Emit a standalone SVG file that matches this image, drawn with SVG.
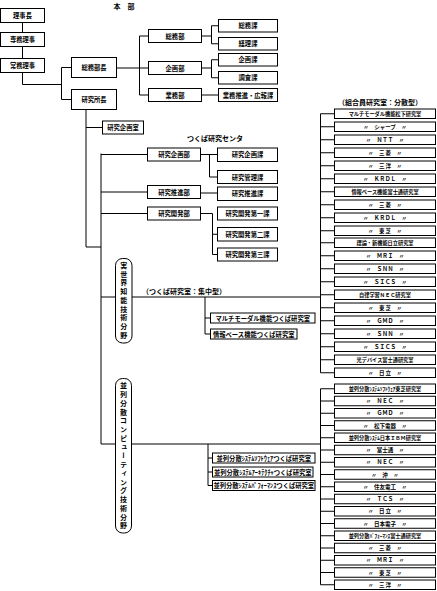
<svg xmlns="http://www.w3.org/2000/svg" width="437" height="591" viewBox="0 0 437 591">
<style>
.b{fill:#fff;stroke:#000;stroke-width:1}
.c{fill:none;stroke:#000;stroke-width:1}
text{font-family:"Noto Sans CJK JP","Noto Sans CJK SC",sans-serif;font-weight:bold;fill:#000;text-anchor:middle;dominant-baseline:central}
.s6{font-size:6.3px}
.s5{font-size:5.5px}
.h5{font-size:5.2px}
.s7{font-size:7px}
.v{font-size:7px;writing-mode:vertical-rl;letter-spacing:1.75px}
</style>
<rect width="437" height="591" fill="#fff"/>
<text class="s7" x="124" y="6">本　部</text>
<text class="s7" x="215" y="138">つくば研究センタ</text>
<text class="s7" x="184" y="290.5">（つくば研究室：集中型）</text>
<text class="s7" x="380" y="101.5">（組合員研究室：分散型）</text>

<g id="connectors" class="c">
<path d="M22.5 22.5V32.5M22.5 46.5V58.5M22.5 72.5V84.5H61.5M61.5 67.5V99.5M61.5 67.5H71.5M61.5 99.5H71.5"/>
<path d="M116.5 68H148.5M139.5 36V95M139.5 36H148.5M139.5 95H148.5"/>
<path d="M201.5 36H211.5M211.5 25.75V43.75M211.5 25.75H218.5M211.5 43.75H218.5"/>
<path d="M201.5 68H211.5M211.5 59.75V77.75M211.5 59.75H218.5M211.5 77.75H218.5M201.5 95H218.5"/>
<path d="M86 109.5V247H101M86 127.5H102.5M101 153.5V444"/>
<path d="M101 154.5H147.5M101 192H147.5M101 213.5H147.5"/>
<path d="M200.5 154.5H217.5M209.5 154.5V177H217.5M200.5 193H217.5M200.5 213.5H212.5V254.5H217.5M212.5 234.25H217.5"/>
<path d="M101 297H320.5M205 297V334M205 318H210.5M205 334H210.5"/>
<path d="M101 444H320.5M208 444V485.5M208 458H212.5M208 472H212.5M208 485.5H212.5"/>
<path d="M320.5 113.75V372.75M320.5 113.75H334.5M320.5 126.75H334.5M320.5 139.75H334.5M320.5 152.75H334.5M320.5 165.75H334.5M320.5 178.75H334.5M320.5 191.75H334.5M320.5 204.75H334.5M320.5 217.75H334.5M320.5 230.75H334.5M320.5 242.75H334.5M320.5 255.75H334.5M320.5 268.75H334.5M320.5 281.75H334.5M320.5 294.75H334.5M320.5 307.75H334.5M320.5 320.75H334.5M320.5 333.75H334.5M320.5 346.75H334.5M320.5 359.75H334.5M320.5 372.75H334.5"/>
<path d="M320.5 388.75V584.75M320.5 388.75H334.5M320.5 401H334.5M320.5 413.25H334.5M320.5 425.5H334.5M320.5 437.75H334.5M320.5 450H334.5M320.5 462.25H334.5M320.5 474.5H334.5M320.5 486.75H334.5M320.5 499H334.5M320.5 511.25H334.5M320.5 523.5H334.5M320.5 535.75H334.5M320.5 548H334.5M320.5 560.25H334.5M320.5 572.5H334.5M320.5 584.75H334.5"/>
</g>

<g id="rijicho"><rect class="b" x="0.5" y="8.5" width="44" height="14"/><text class="s6" x="22.5" y="15.5">理事長</text></g>
<g id="senmu"><rect class="b" x="0.5" y="32.5" width="44" height="14"/><text class="s6" x="22.5" y="39.5">専務理事</text></g>
<g id="jomu"><rect class="b" x="0.5" y="58.5" width="44" height="14"/><text class="s6" x="22.5" y="65.5">常務理事</text></g>
<g id="somubucho"><rect class="b" x="71.5" y="57.5" width="45" height="20"/><text class="s6" x="94" y="67.5">総務部長</text></g>
<g id="kenkyushocho"><rect class="b" x="71.5" y="89.5" width="45" height="20"/><text class="s6" x="94" y="99.5">研究所長</text></g>

<g id="dept1"><rect class="b" x="148.5" y="29.5" width="53" height="13"/><text class="s6" x="175" y="36">総務部</text></g>
<g id="dept2"><rect class="b" x="148.5" y="61.5" width="53" height="13"/><text class="s6" x="175" y="68">企画部</text></g>
<g id="dept3"><rect class="b" x="148.5" y="88.5" width="53" height="13"/><text class="s6" x="175" y="95">業務部</text></g>
<g id="sec1"><rect class="b" x="218.5" y="19.5" width="59" height="12.5"/><text class="s6" x="248" y="25.75">総務課</text></g>
<g id="sec2"><rect class="b" x="218.5" y="37.5" width="59" height="12.5"/><text class="s6" x="248" y="43.75">経理課</text></g>
<g id="sec3"><rect class="b" x="218.5" y="53.5" width="59" height="12.5"/><text class="s6" x="248" y="59.75">企画課</text></g>
<g id="sec4"><rect class="b" x="218.5" y="71.5" width="59" height="12.5"/><text class="s6" x="248" y="77.75">調査課</text></g>
<g id="sec5"><rect class="b" x="218.5" y="88.5" width="59" height="13"/><text class="s6" x="248" y="95">業務推進・広報課</text></g>

<g id="kikakushitsu"><rect class="b" x="102.5" y="121" width="41" height="13"/><text class="s6" x="123" y="127.5">研究企画室</text></g>
<g id="tcA"><rect class="b" x="147.5" y="148" width="53" height="13"/><text class="s6" x="174" y="154.5">研究企画部</text></g>
<g id="tcB"><rect class="b" x="147.5" y="185.5" width="53" height="13"/><text class="s6" x="174" y="192">研究推進部</text></g>
<g id="tcC"><rect class="b" x="147.5" y="207" width="53" height="13"/><text class="s6" x="174" y="213.5">研究開発部</text></g>
<g id="tcA1"><rect class="b" x="217.5" y="148" width="60" height="13.5"/><text class="s6" x="247.5" y="154.75">研究企画課</text></g>
<g id="tcA2"><rect class="b" x="217.5" y="170.5" width="60" height="13"/><text class="s6" x="247.5" y="177">研究管理課</text></g>
<g id="tcB1"><rect class="b" x="217.5" y="187" width="60" height="13.5"/><text class="s6" x="247.5" y="193.75">研究推進課</text></g>
<g id="tcC1"><rect class="b" x="217.5" y="207" width="60" height="13"/><text class="s6" x="247.5" y="213.5">研究開発第一課</text></g>
<g id="tcC2"><rect class="b" x="217.5" y="227.5" width="60" height="13.5"/><text class="s6" x="247.5" y="234.25">研究開発第二課</text></g>
<g id="tcC3"><rect class="b" x="217.5" y="248" width="60" height="13"/><text class="s6" x="247.5" y="254.5">研究開発第三課</text></g>

<g id="field1"><rect class="b" x="115.5" y="258.5" width="16.5" height="84.5" rx="7" ry="7"/><text class="v" x="123.75" y="301">実世界知能技術分野</text></g>
<g id="field2"><rect class="b" x="115.5" y="378.5" width="16" height="154.5" rx="7" ry="7"/><text class="v" x="123.5" y="456.5">並列分散コンピューティング技術分野</text></g>

<g id="tsukuba1"><rect class="b" x="210.5" y="313" width="104.5" height="10"/><text class="s6" x="262.75" y="318">マルチモーダル機能つくば研究室</text></g>
<g id="tsukuba2"><rect class="b" x="210.5" y="329" width="86.5" height="10"/><text class="s6" x="253.75" y="334">情報ベース機能つくば研究室</text></g>
<g id="tsukuba3"><rect class="b" x="212.5" y="453" width="102.5" height="10"/><text class="s6" x="263.75" y="458">並列分散ｼｽﾃﾑｿﾌﾄｳｪｱつくば研究室</text></g>
<g id="tsukuba4"><rect class="b" x="212.5" y="467" width="100.5" height="10"/><text class="s6" x="262.75" y="472">並列分散ｼｽﾃﾑｱｰｷﾃｸﾁｬつくば研究室</text></g>
<g id="tsukuba5"><rect class="b" x="212.5" y="480.5" width="102.5" height="10"/><text class="s6" x="263.75" y="485.5">並列分散ｼｽﾃﾑﾊﾟﾌｫｰﾏﾝｽつくば研究室</text></g>

<g id="d00"><rect class="b" x="334.5" y="109" width="101" height="9.5"/><text class="h5" x="385" y="113.75">マルチモーダル機能松下研究室</text></g>
<g id="d01"><rect class="b" x="334.5" y="122" width="101" height="9.5"/><text class="s5" x="385" y="126.75">〃　シャープ　〃</text></g>
<g id="d02"><rect class="b" x="334.5" y="135" width="101" height="9.5"/><text class="s5" x="385" y="139.75">〃　ＮＴＴ　〃</text></g>
<g id="d03"><rect class="b" x="334.5" y="148" width="101" height="9.5"/><text class="s5" x="385" y="152.75">〃　三 菱　〃</text></g>
<g id="d04"><rect class="b" x="334.5" y="161" width="101" height="9.5"/><text class="s5" x="385" y="165.75">〃　三 洋　〃</text></g>
<g id="d05"><rect class="b" x="334.5" y="174" width="101" height="9.5"/><text class="s5" x="385" y="178.75">〃　ＫＲＤＬ　〃</text></g>
<g id="d06"><rect class="b" x="334.5" y="187" width="101" height="9.5"/><text class="h5" x="385" y="191.75">情報ベース機能富士通研究室</text></g>
<g id="d07"><rect class="b" x="334.5" y="200" width="101" height="9.5"/><text class="s5" x="385" y="204.75">〃　三 菱　〃</text></g>
<g id="d08"><rect class="b" x="334.5" y="213" width="101" height="9.5"/><text class="s5" x="385" y="217.75">〃　ＫＲＤＬ　〃</text></g>
<g id="d09"><rect class="b" x="334.5" y="226" width="101" height="9.5"/><text class="s5" x="385" y="230.75">〃　東 芝　〃</text></g>
<g id="d10"><rect class="b" x="334.5" y="238" width="101" height="9.5"/><text class="h5" x="385" y="242.75">理論・新機能日立研究室</text></g>
<g id="d11"><rect class="b" x="334.5" y="251" width="101" height="9.5"/><text class="s5" x="385" y="255.75">〃　ＭＲＩ　〃</text></g>
<g id="d12"><rect class="b" x="334.5" y="264" width="101" height="9.5"/><text class="s5" x="385" y="268.75">〃　ＳＮＮ　〃</text></g>
<g id="d13"><rect class="b" x="334.5" y="277" width="101" height="9.5"/><text class="s5" x="385" y="281.75">〃　ＳＩＣＳ　〃</text></g>
<g id="d14"><rect class="b" x="334.5" y="290" width="101" height="9.5"/><text class="h5" x="385" y="294.75">自律学習ＮＥＣ研究室</text></g>
<g id="d15"><rect class="b" x="334.5" y="303" width="101" height="9.5"/><text class="s5" x="385" y="307.75">〃　東 芝　〃</text></g>
<g id="d16"><rect class="b" x="334.5" y="316" width="101" height="9.5"/><text class="s5" x="385" y="320.75">〃　ＧＭＤ　〃</text></g>
<g id="d17"><rect class="b" x="334.5" y="329" width="101" height="9.5"/><text class="s5" x="385" y="333.75">〃　ＳＮＮ　〃</text></g>
<g id="d18"><rect class="b" x="334.5" y="342" width="101" height="9.5"/><text class="s5" x="385" y="346.75">〃　ＳＩＣＳ　〃</text></g>
<g id="d19"><rect class="b" x="334.5" y="355" width="101" height="9.5"/><text class="h5" x="385" y="359.75">光デバイス富士通研究室</text></g>
<g id="d20"><rect class="b" x="334.5" y="368" width="101" height="9.5"/><text class="s5" x="385" y="372.75">〃　日 立　〃</text></g>

<g id="p00"><rect class="b" x="334.5" y="384" width="101" height="9.5"/><text class="h5" x="385" y="388.75">並列分散ｼｽﾃﾑｿﾌﾄｳｪｱ東芝研究室</text></g>
<g id="p01"><rect class="b" x="334.5" y="396.25" width="101" height="9.5"/><text class="s5" x="385" y="401">〃　ＮＥＣ　〃</text></g>
<g id="p02"><rect class="b" x="334.5" y="408.5" width="101" height="9.5"/><text class="s5" x="385" y="413.25">〃　ＧＭＤ　〃</text></g>
<g id="p03"><rect class="b" x="334.5" y="420.75" width="101" height="9.5"/><text class="s5" x="385" y="425.5">〃　松下電器　〃</text></g>
<g id="p04"><rect class="b" x="334.5" y="433" width="101" height="9.5"/><text class="h5" x="385" y="437.75">並列分散ｼｽﾃﾑ日本ＩＢＭ研究室</text></g>
<g id="p05"><rect class="b" x="334.5" y="445.25" width="101" height="9.5"/><text class="s5" x="385" y="450">〃　富士通　〃</text></g>
<g id="p06"><rect class="b" x="334.5" y="457.5" width="101" height="9.5"/><text class="s5" x="385" y="462.25">〃　ＮＥＣ　〃</text></g>
<g id="p07"><rect class="b" x="334.5" y="469.75" width="101" height="9.5"/><text class="s5" x="385" y="474.5">〃　沖　〃</text></g>
<g id="p08"><rect class="b" x="334.5" y="482" width="101" height="9.5"/><text class="s5" x="385" y="486.75">〃　住友電工　〃</text></g>
<g id="p09"><rect class="b" x="334.5" y="494.25" width="101" height="9.5"/><text class="s5" x="385" y="499">〃　ＴＣＳ　〃</text></g>
<g id="p10"><rect class="b" x="334.5" y="506.5" width="101" height="9.5"/><text class="s5" x="385" y="511.25">〃　日 立　〃</text></g>
<g id="p11"><rect class="b" x="334.5" y="518.75" width="101" height="9.5"/><text class="s5" x="385" y="523.5">〃　日本電子　〃</text></g>
<g id="p12"><rect class="b" x="334.5" y="531" width="101" height="9.5"/><text class="h5" x="385" y="535.75">並列分散ﾊﾟﾌｫｰﾏﾝｽ富士通研究室</text></g>
<g id="p13"><rect class="b" x="334.5" y="543.25" width="101" height="9.5"/><text class="s5" x="385" y="548">〃　三 菱　〃</text></g>
<g id="p14"><rect class="b" x="334.5" y="555.5" width="101" height="9.5"/><text class="s5" x="385" y="560.25">〃　ＭＲＩ　〃</text></g>
<g id="p15"><rect class="b" x="334.5" y="567.75" width="101" height="9.5"/><text class="s5" x="385" y="572.5">〃　東 芝　〃</text></g>
<g id="p16"><rect class="b" x="334.5" y="580" width="101" height="9.5"/><text class="s5" x="385" y="584.75">〃　三 洋　〃</text></g>
</svg>
